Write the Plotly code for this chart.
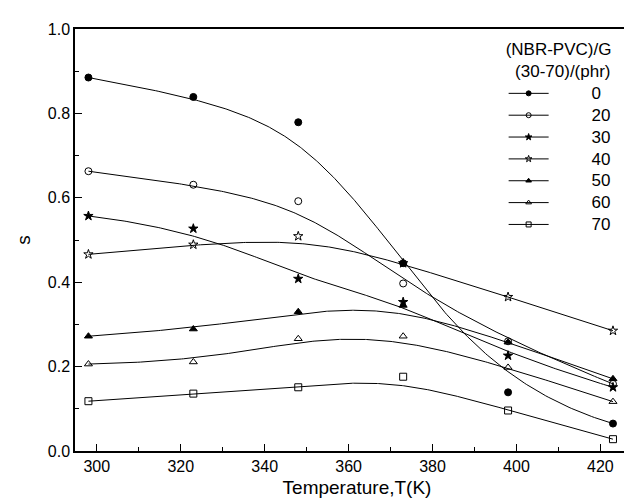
import numpy as np
import plotly.graph_objects as go

temps = [298, 323, 348, 373, 398, 423]
labels = ["0", "20", "30", "40", "50", "60", "70"]
s_0 = [0.885, 0.839, 0.779, 0.445, 0.139, 0.065]
s_20 = [0.663, 0.631, 0.592, 0.397, 0.260, 0.159]
s_30 = [0.557, 0.527, 0.408, 0.353, 0.226, 0.151]
s_40 = [0.466, 0.489, 0.509, 0.445, 0.365, 0.285]
s_50 = [0.272, 0.289, 0.330, 0.345, 0.258, 0.171]
s_60 = [0.206, 0.211, 0.266, 0.272, 0.198, 0.117]
s_70 = [0.118, 0.136, 0.151, 0.176, 0.096, 0.028]
series = [s_0, s_20, s_30, s_40, s_50, s_60, s_70]
symbols = ["circle", "circle-open", "star", "star-open",
           "triangle-up", "triangle-up-open", "square-open"]


def bspline(px, py, n=300, k=3):
    px = np.asarray(px, float)
    py = np.asarray(py, float)
    m = len(px)
    inner = np.linspace(0, 1, m - k + 1)
    knots = np.concatenate([np.zeros(k), inner, np.ones(k)])
    t = np.linspace(0, 1, n)
    t[-1] = 1 - 1e-12

    def basis(i, d, tt):
        if d == 0:
            return np.where((knots[i] <= tt) & (tt < knots[i + 1]), 1.0, 0.0)
        a = 0.0
        b = 0.0
        den1 = knots[i + d] - knots[i]
        den2 = knots[i + d + 1] - knots[i + 1]
        if den1 > 0:
            a = (tt - knots[i]) / den1 * basis(i, d - 1, tt)
        if den2 > 0:
            b = (knots[i + d + 1] - tt) / den2 * basis(i + 1, d - 1, tt)
        return a + b

    B = np.array([basis(i, k, t) for i in range(m)])
    return B.T @ px, B.T @ py


fig = go.Figure()
for lab, ys, sym in zip(labels, series, symbols):
    cx, cy = bspline(temps, ys)
    fig.add_trace(go.Scatter(x=cx, y=cy, mode="lines",
                             line=dict(color="black", width=1),
                             showlegend=False, hoverinfo="skip"))
    fig.add_trace(go.Scatter(x=temps, y=ys, mode="markers",
                             marker=dict(symbol=sym, size=7, color="black",
                                         line=dict(color="black", width=1)),
                             showlegend=False))
    pad = "\u00a0" * (8 if len(lab) == 1 else 8)
    fig.add_trace(go.Scatter(x=[None], y=[None], mode="lines+markers",
                             name='<span style="font-size:17px">' + pad + lab + "</span>",
                             line=dict(color="black", width=1),
                             marker=dict(symbol=sym, size=5, color="black",
                                         line=dict(color="black", width=1))))

font = "Liberation Sans, Arial, sans-serif"
fig.update_layout(
    width=632, height=500,
    margin=dict(l=67, r=1, t=21, b=57),
    plot_bgcolor="white", paper_bgcolor="white",
    font=dict(family=font, color="black", size=16),
    showlegend=True,
    legend=dict(x=0.76, y=0.99, xanchor="left", yanchor="top",
                bgcolor="rgba(0,0,0,0)",
                font=dict(size=14.5, family=font),
                title=dict(text="(NBR-PVC)/G<br>\u00a0\u00a0(30-70)/(phr)", side="top",
                           font=dict(size=17, family=font)),
                itemwidth=40, tracegroupgap=0),
    xaxis=dict(range=[294.8, 429.2], dtick=20, tick0=300,
               showline=True, linecolor="black", linewidth=1.5, mirror=True,
               ticks="inside", ticklen=7, tickwidth=1.2, tickcolor="black",
               minor=dict(dtick=10, ticks="inside", ticklen=4, tickwidth=1.2, tickcolor="black"),
               showgrid=False, zeroline=False,
               tickfont=dict(size=16),
               title=dict(text="Temperature,T(K)", font=dict(size=19), standoff=7)),
    yaxis=dict(range=[0, 1.0], dtick=0.2, tick0=0, tickformat=".1f",
               showline=True, linecolor="black", linewidth=1.5,
               ticks="inside", ticklen=7, tickwidth=1.2, tickcolor="black",
               minor=dict(dtick=0.1, ticks="inside", ticklen=4, tickwidth=1.2, tickcolor="black"),
               showgrid=False, zeroline=False,
               tickfont=dict(size=16),
               title=dict(text="s", font=dict(size=19), standoff=12)),
)

fig.write_html("out.html")
